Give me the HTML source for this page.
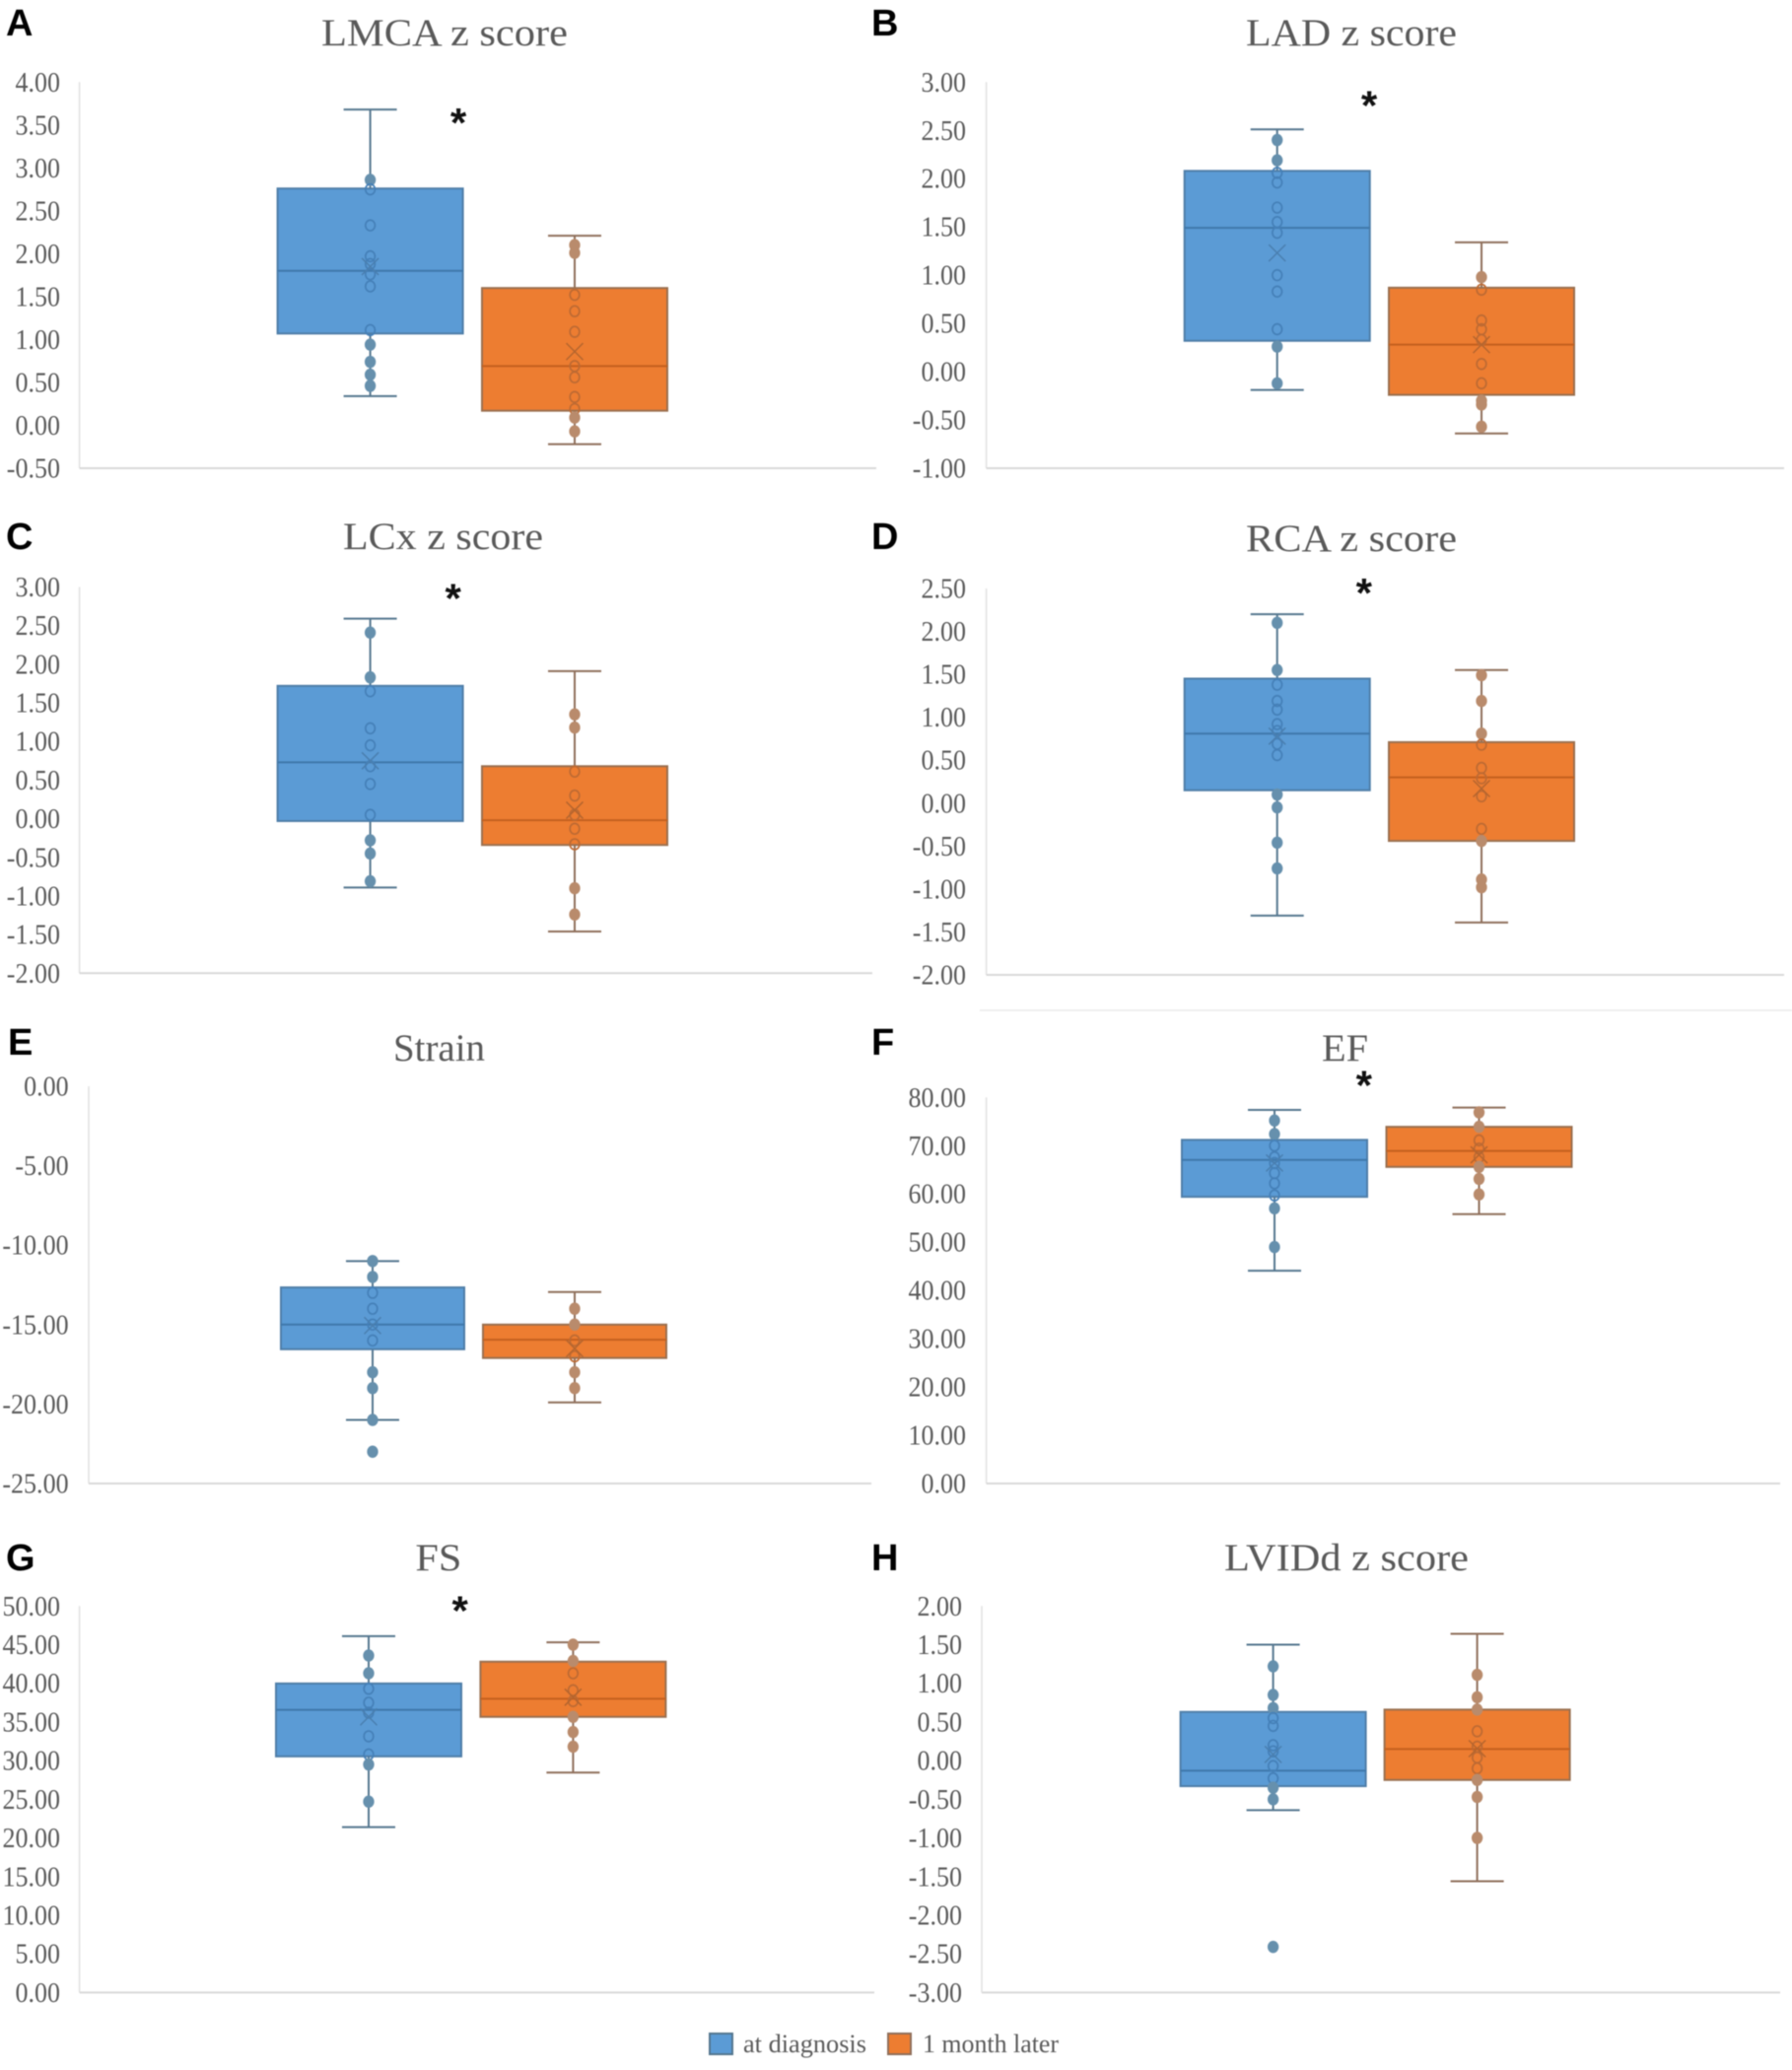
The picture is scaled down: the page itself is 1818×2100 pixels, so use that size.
<!DOCTYPE html>
<html lang="en">
<head>
<meta charset="utf-8">
<title>Coronary and cardiac measures at diagnosis and 1 month later</title>
<style>
html,body{margin:0;padding:0;background:#fff;width:1818px;height:2100px;overflow:hidden}
svg{display:block;filter:blur(0.5px)}
text{font-family:"Liberation Serif",serif;fill:#595959}
.letter{font-family:"Liberation Sans",sans-serif;font-weight:700;font-size:38px;fill:#000}
.star{font-family:"Liberation Sans",sans-serif;font-weight:700;font-size:42px;fill:#111}
.tick{font-size:28px}
.title{font-size:39px}
.legend{font-size:26px}
</style>
</head>
<body>
<svg id="figure" xmlns="http://www.w3.org/2000/svg" width="1818" height="2100" viewBox="0 0 1818 2100">
  <line x1="994" x2="1818" y1="1025" y2="1025" stroke="#e9e9e9" stroke-width="1.5"/>
  <g id="panels"></g>
  <g>
    <g>
      <rect x="720" y="2063" width="23" height="21" fill="#5b9bd5" stroke="#55778f" stroke-width="2"/>
      <text class="legend" x="754" y="2082" textLength="125" lengthAdjust="spacingAndGlyphs">at diagnosis</text>
    </g>
    <g>
      <rect x="901" y="2063" width="23" height="21" fill="#ed7d31" stroke="#8f6f5b" stroke-width="2"/>
      <text class="legend" x="936" y="2082" textLength="138" lengthAdjust="spacingAndGlyphs">1 month later</text>
    </g>
  </g>
</svg>
<script>
// Series categories
const seriesNames = ['at diagnosis', '1 month later'];

// Each box array: [lower whisker, Q1, median, Q3, upper whisker]
const lmcaTicks = ['-0.50','0.00','0.50','1.00','1.50','2.00','2.50','3.00','3.50','4.00'];
const lmcaBlueBox = [0.34,1.07,1.80,2.76,3.68];
const lmcaBlueMean = [1.85];
const lmcaBluePoints = [2.86,2.75,2.33,1.97,1.88,1.76,1.62,1.11,0.94,0.74,0.59,0.46];
const lmcaOrangeBox = [-0.22,0.17,0.69,1.60,2.21];
const lmcaOrangeMean = [0.86];
const lmcaOrangePoints = [2.10,2.01,1.52,1.33,1.09,0.69,0.56,0.33,0.19,0.09,-0.07];

const ladTicks = ['-1.00','-0.50','0.00','0.50','1.00','1.50','2.00','2.50','3.00'];
const ladBlueBox = [-0.19,0.32,1.49,2.08,2.51];
const ladBlueMean = [1.23];
const ladBluePoints = [2.40,2.19,2.06,1.96,1.70,1.55,1.44,1.00,0.83,0.44,0.26,-0.12];
const ladOrangeBox = [-0.64,-0.24,0.28,0.87,1.34];
const ladOrangeMean = [0.28];
const ladOrangePoints = [0.98,0.85,0.53,0.44,0.33,0.08,-0.12,-0.30,-0.34,-0.57];

const lcxTicks = ['-2.00','-1.50','-1.00','-0.50','0.00','0.50','1.00','1.50','2.00','2.50','3.00'];
const lcxBlueBox = [-0.89,-0.03,0.73,1.72,2.59];
const lcxBlueMean = [0.75];
const lcxBluePoints = [2.41,1.83,1.65,1.17,0.95,0.68,0.45,0.05,-0.28,-0.45,-0.81];
const lcxOrangeBox = [-1.46,-0.34,-0.02,0.68,1.91];
const lcxOrangeMean = [0.11];
const lcxOrangePoints = [1.35,1.18,0.61,0.30,0.05,-0.13,-0.33,-0.90,-1.24];

const rcaTicks = ['-2.00','-1.50','-1.00','-0.50','0.00','0.50','1.00','1.50','2.00','2.50'];
const rcaBlueBox = [-1.31,0.15,0.81,1.45,2.20];
const rcaBlueMean = [0.78];
const rcaBluePoints = [2.10,1.55,1.38,1.19,1.09,0.92,0.84,0.69,0.56,0.10,-0.05,-0.46,-0.76];
const rcaOrangeBox = [-1.39,-0.44,0.30,0.71,1.55];
const rcaOrangeMean = [0.17];
const rcaOrangePoints = [1.49,1.19,0.81,0.68,0.41,0.29,0.08,-0.30,-0.44,-0.89,-0.98];

const strainTicks = ['-25.00','-20.00','-15.00','-10.00','-5.00','0.00'];
const strainBlueBox = [-21.0,-16.55,-15.0,-12.66,-11.0];
const strainBlueMean = [-15.06];
const strainBluePoints = [-11,-12,-13,-14,-15,-16,-18,-19,-21,-23];
const strainOrangeBox = [-19.9,-17.1,-15.95,-15.0,-12.95];
const strainOrangeMean = [-16.5];
const strainOrangePoints = [-14,-15,-16,-17,-18,-19];

const efTicks = ['0.00','10.00','20.00','30.00','40.00','50.00','60.00','70.00','80.00'];
const efBlueBox = [44.1,59.4,67.05,71.2,77.4];
const efBlueMean = [66.4];
const efBluePoints = [75.2,72.4,70.0,67.6,66.4,64.3,62.2,59.7,57.0,49.0];
const efOrangeBox = [55.8,65.6,68.9,73.9,77.9];
const efOrangeMean = [68.1];
const efOrangePoints = [76.9,73.9,71.1,69.4,67.6,65.6,63.1,59.9];

const fsTicks = ['0.00','5.00','10.00','15.00','20.00','25.00','30.00','35.00','40.00','45.00','50.00'];
const fsBlueBox = [21.4,30.55,36.57,39.98,46.1];
const fsBlueMean = [35.66];
const fsBluePoints = [43.6,41.3,39.3,37.5,36.2,33.15,30.8,29.5,24.7];
const fsOrangeBox = [28.46,35.66,38.0,42.8,45.3];
const fsOrangeMean = [38.2];
const fsOrangePoints = [45.0,42.9,41.3,39.1,37.7,35.66,33.7,31.8];

const lviddTicks = ['-3.00','-2.50','-2.00','-1.50','-1.00','-0.50','0.00','0.50','1.00','1.50','2.00'];
const lviddBlueBox = [-0.64,-0.33,-0.13,0.63,1.50];
const lviddBlueMean = [0.08];
const lviddBluePoints = [1.22,0.85,0.68,0.55,0.45,0.20,0.12,-0.07,-0.23,-0.35,-0.50,-2.41];
const lviddOrangeBox = [-1.56,-0.25,0.15,0.66,1.64];
const lviddOrangeMean = [0.155];
const lviddOrangePoints = [1.11,0.82,0.66,0.38,0.18,0.04,-0.10,-0.25,-0.47,-1.00];

const panels = [
  {id:'lmca',letter:'A',title:'LMCA z score',ticks:lmcaTicks,blue:[lmcaBlueBox,lmcaBlueMean,lmcaBluePoints],orange:[lmcaOrangeBox,lmcaOrangeMean,lmcaOrangePoints],
   f:{l:80.6,r:889,t:83.3,b:475,lab:61,cx1:375.6,cx2:583,bw:188,lx:6,ly:36,tx:326,tw:250,ty:46,sx:465,sy:119}},
  {id:'lad',letter:'B',title:'LAD z score',ticks:ladTicks,blue:[ladBlueBox,ladBlueMean,ladBluePoints],orange:[ladOrangeBox,ladOrangeMean,ladOrangePoints],
   f:{l:1000.6,r:1810,t:83.3,b:475,lab:980,cx1:1295.7,cx2:1503,bw:188,lx:884,ly:36,tx:1264,tw:214,ty:46,sx:1389,sy:101.7}},
  {id:'lcx',letter:'C',title:'LCx z score',ticks:lcxTicks,blue:[lcxBlueBox,lcxBlueMean,lcxBluePoints],orange:[lcxOrangeBox,lcxOrangeMean,lcxOrangePoints],
   f:{l:80.6,r:885,t:595.5,b:987.3,lab:61,cx1:375.6,cx2:583,bw:188,lx:6,ly:557,tx:348,tw:203,ty:557,sx:459.7,sy:601.7}},
  {id:'rca',letter:'D',title:'RCA z score',ticks:rcaTicks,blue:[rcaBlueBox,rcaBlueMean,rcaBluePoints],orange:[rcaOrangeBox,rcaOrangeMean,rcaOrangePoints],
   f:{l:1000.6,r:1810,t:597,b:989,lab:980,cx1:1295.7,cx2:1503,bw:188,lx:884,ly:557,tx:1264,tw:214,ty:559,sx:1383.8,sy:596}},
  {id:'strain',letter:'E',title:'Strain',ticks:strainTicks,blue:[strainBlueBox,strainBlueMean,strainBluePoints],orange:[strainOrangeBox,strainOrangeMean,strainOrangePoints],
   f:{l:90,r:884,t:1102,b:1505,lab:69.6,cx1:378,cx2:583,bw:186,lx:8,ly:1070,tx:399,tw:93,ty:1076}},
  {id:'ef',letter:'F',title:'EF',ticks:efTicks,blue:[efBlueBox,efBlueMean,efBluePoints],orange:[efOrangeBox,efOrangeMean,efOrangePoints],
   f:{l:1000.6,r:1806,t:1113.3,b:1505,lab:980,cx1:1293,cx2:1500.5,bw:188,lx:884,ly:1070,tx:1341,tw:47,ty:1076,sx:1383.8,sy:1095.7}},
  {id:'fs',letter:'G',title:'FS',ticks:fsTicks,blue:[fsBlueBox,fsBlueMean,fsBluePoints],orange:[fsOrangeBox,fsOrangeMean,fsOrangePoints],
   f:{l:80.6,r:887,t:1629.3,b:2021.4,lab:61,cx1:374,cx2:581.4,bw:188,lx:6,ly:1593,tx:421.4,tw:47,ty:1593,sx:466.7,sy:1628.5}},
  {id:'lvidd',letter:'H',title:'LVIDd z score',ticks:lviddTicks,blue:[lviddBlueBox,lviddBlueMean,lviddBluePoints],orange:[lviddOrangeBox,lviddOrangeMean,lviddOrangePoints],
   f:{l:996,r:1806,t:1629.3,b:2021.4,lab:976,cx1:1291.6,cx2:1498.6,bw:188,lx:884,ly:1593,tx:1242,tw:248,ty:1593}}
];

const blueStyle = {fill:'#5b9bd5',border:'#4f7ea8',median:'#3f78ab',whisk:'#55778f',ptFill:'#6690ad',ptIn:'#4580b8',mean:'#4a7fb0'};
const orangeStyle = {fill:'#ed7d31',border:'#9a7050',median:'#c4601f',whisk:'#8f6f5b',ptFill:'#b98b6c',ptIn:'#bd6a33',mean:'#b5652e'};

const NS = 'http://www.w3.org/2000/svg';
function mk(tag, parent, attrs, txt) {
  const node = document.createElementNS(NS, tag);
  for (const k in attrs) node.setAttribute(k, attrs[k]);
  if (txt !== undefined) node.textContent = txt;
  parent.appendChild(node);
  return node;
}

function drawSeries(g, prefix, data, cx, bw, yScale, st) {
  const box = data[0], mean = data[1][0], pts = data[2];
  const capW = 54;
  const wh = mk('g', g, {stroke: st.whisk, 'stroke-width': 2});
  
  
  const upper = mk('line', wh, {x1: cx, x2: cx, y1: yScale(box[4]), y2: yScale(box[3])});
  
  
  const lower = mk('line', wh, {x1: cx, x2: cx, y1: yScale(box[1]), y2: yScale(box[0])});
  
  
  const capTop = mk('line', wh, {x1: cx - capW / 2, x2: cx + capW / 2, y1: yScale(box[4]), y2: yScale(box[4])});
  
  
  const capBot = mk('line', wh, {x1: cx - capW / 2, x2: cx + capW / 2, y1: yScale(box[0]), y2: yScale(box[0])});
  
  

  const rect = mk('rect', g, {x: cx - bw / 2, width: bw, y: yScale(box[3]), height: yScale(box[1]) - yScale(box[3]), fill: st.fill, stroke: st.border, 'stroke-width': 2});
  
  

  const med = mk('line', g, {x1: cx - bw / 2, x2: cx + bw / 2, y1: yScale(box[2]), y2: yScale(box[2]), stroke: st.median, 'stroke-width': 2});
  
  

  pts.forEach(function (v) {
    const inside = v < box[3] && v > box[1];
    const c = mk('ellipse', g, {cx: cx, cy: yScale(v), rx: 4.8, ry: 5.4, fill: inside ? 'none' : st.ptFill, stroke: inside ? st.ptIn : st.ptFill, 'stroke-width': 1.7});
    
    
  });

  const my = yScale(mean), h = 8.5;
  const x = mk('path', g, {d: 'M' + (cx - h) + ' ' + (my - h) + 'L' + (cx + h) + ' ' + (my + h) + 'M' + (cx + h) + ' ' + (my - h) + 'L' + (cx - h) + ' ' + (my + h), fill: 'none', stroke: st.mean, 'stroke-width': 1.5});
  
  
}

const root = document.getElementById('panels');
panels.forEach(function (p) {
  const f = p.f;
  const vals = p.ticks.map(Number);
  const min = Math.min.apply(null, vals), max = Math.max.apply(null, vals);
  const yScale = function (v) { return f.b - (v - min) / (max - min) * (f.b - f.t); };

  const g = mk('g', root, {});
  
  

  const letter = mk('text', g, {x: f.lx, y: f.ly, class: 'letter'}, p.letter);
  
  

  const title = mk('text', g, {x: f.tx, y: f.ty, class: 'title', textLength: f.tw, lengthAdjust: 'spacingAndGlyphs'}, p.title);
  
  

  const yAxis = mk('line', g, {x1: f.l, x2: f.l, y1: f.t, y2: f.b, stroke: '#e3e3e3', 'stroke-width': 1.6});
  
  
  const xAxis = mk('line', g, {x1: f.l, x2: f.r, y1: f.b, y2: f.b, stroke: '#d9d9d9', 'stroke-width': 2});
  
  

  p.ticks.forEach(function (t) {
    const lab = mk('text', g, {transform: 'translate(' + f.lab + ' ' + (yScale(Number(t)) + 9.5) + ') scale(0.93 1)', 'text-anchor': 'end', class: 'tick'}, t);
    
    
  });

  drawSeries(g, p.id + '-at-diagnosis', p.blue, f.cx1, f.bw, yScale, blueStyle);
  drawSeries(g, p.id + '-1-month-later', p.orange, f.cx2, f.bw, yScale, orangeStyle);

  if (f.sx !== undefined) {
    const star = mk('text', g, {x: f.sx, y: f.sy + 20, 'text-anchor': 'middle', class: 'star'}, '*');
    
    
  }
});
</script>
</body>
</html>
